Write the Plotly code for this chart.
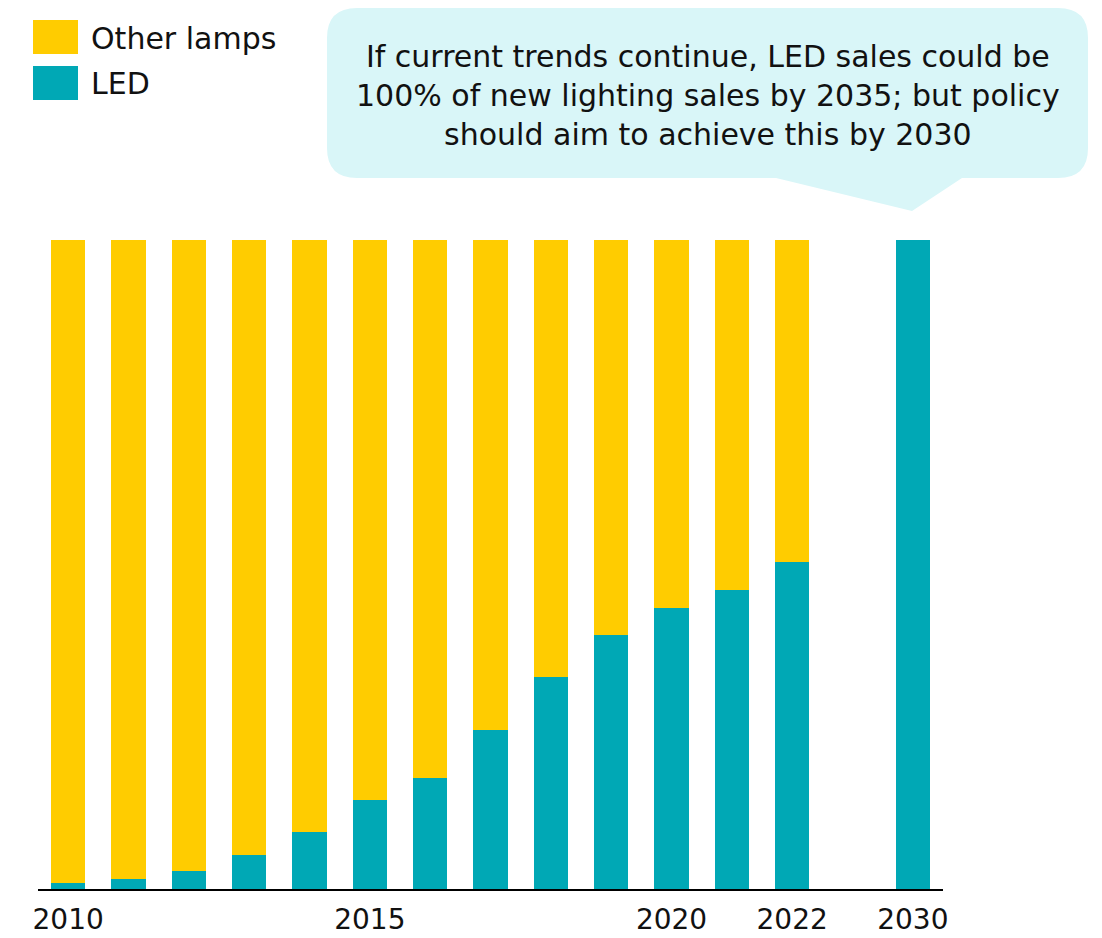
import plotly.graph_objects as go

years = ["2010", "2011", "2012", "2013", "2014", "2015", "2016", "2017", "2018",
         "2019", "2020", "2021", "2022", "2030"]
led = [0.9, 1.5, 2.8, 5.2, 8.8, 13.7, 17.1, 24.5, 32.7, 39.1, 43.3, 46.1, 50.4, 100]
other = [100 - v for v in led]

# category order with an empty slot between 2022 and 2030
cat_order = years[:13] + ["gap"] + ["2030"]
tick_labels = ["2010", "", "", "", "", "2015", "", "", "", "", "2020", "", "2022", "", "2030"]

callout = "If current trends continue, LED sales could be<br>100% of new lighting sales by 2035; but policy<br>should aim to achieve this by 2030"

YELLOW = "#FFCC00"
TEAL = "#00A8B5"
FONT = "DejaVu Sans"

# page body adds an 8px offset, so the figure is drawn 8px smaller
OFF = 8
W, H = 1102 - OFF, 938 - OFF
L, T = 38 - OFF, 240 - OFF
PW, PH = 905, 649
R, B = W - L - PW, H - T - PH


def px(x):
    return (x - OFF - L) / PW


def py(y):
    return (T + PH - (y - OFF)) / PH


fig = go.Figure()
fig.add_trace(go.Bar(x=years, y=led, name="LED", marker_color=TEAL, marker_line_width=0))
fig.add_trace(go.Bar(x=years, y=other, name="Other lamps", marker_color=YELLOW, marker_line_width=0))

# speech bubble
x0, x1, y0, y1, r = 327, 1088, 8, 178, 30
tl, tr, tip = 776, 962, (912, 211)
path = (f"M {px(x0 + r)},{py(y0)} L {px(x1 - r)},{py(y0)} "
        f"Q {px(x1)},{py(y0)} {px(x1)},{py(y0 + r)} "
        f"L {px(x1)},{py(y1 - r)} Q {px(x1)},{py(y1)} {px(x1 - r)},{py(y1)} "
        f"L {px(tr)},{py(y1)} L {px(tip[0])},{py(tip[1])} L {px(tl)},{py(y1)} "
        f"L {px(x0 + r)},{py(y1)} Q {px(x0)},{py(y1)} {px(x0)},{py(y1 - r)} "
        f"L {px(x0)},{py(y0 + r)} Q {px(x0)},{py(y0)} {px(x0 + r)},{py(y0)} Z")
fig.add_shape(type="path", path=path, xref="paper", yref="paper",
              fillcolor="#D9F6F8", line_width=0, layer="below")
fig.add_annotation(x=px((x0 + x1) / 2), y=py(95), xref="paper", yref="paper",
                   text=callout, showarrow=False, xanchor="center", yanchor="middle",
                   font=dict(family=FONT, size=30, color="#111111"))

# legend drawn by hand
for i, (label, col) in enumerate([("Other lamps", YELLOW), ("LED", TEAL)]):
    top = 20 + i * 46
    fig.add_shape(type="rect", xref="paper", yref="paper",
                  x0=px(33), x1=px(78), y0=py(top), y1=py(top + 34),
                  fillcolor=col, line_width=0)
    fig.add_annotation(x=px(89), y=py(top + 18), xref="paper", yref="paper",
                       text=label, showarrow=False, xanchor="left", yanchor="middle",
                       font=dict(family=FONT, size=30, color="#111111"))

fig.update_layout(
    width=W, height=H, barmode="stack", bargap=0.435,
    margin=dict(l=L, r=R, t=T, b=B),
    plot_bgcolor="white", paper_bgcolor="white",
    showlegend=False,
    font=dict(family=FONT, size=28, color="#111111"),
    xaxis=dict(type="category", categoryorder="array", categoryarray=cat_order,
               tickmode="array", tickvals=cat_order, ticktext=tick_labels,
               range=[-0.5, 14.5], showline=True, linecolor="black", linewidth=2,
               ticks="", showgrid=False, ticklabelstandoff=4, automargin=False,
               tickfont=dict(family=FONT, size=28, color="#111111")),
    yaxis=dict(range=[0, 100], visible=False, showgrid=False, automargin=False),
)

fig.write_html("out.html")
